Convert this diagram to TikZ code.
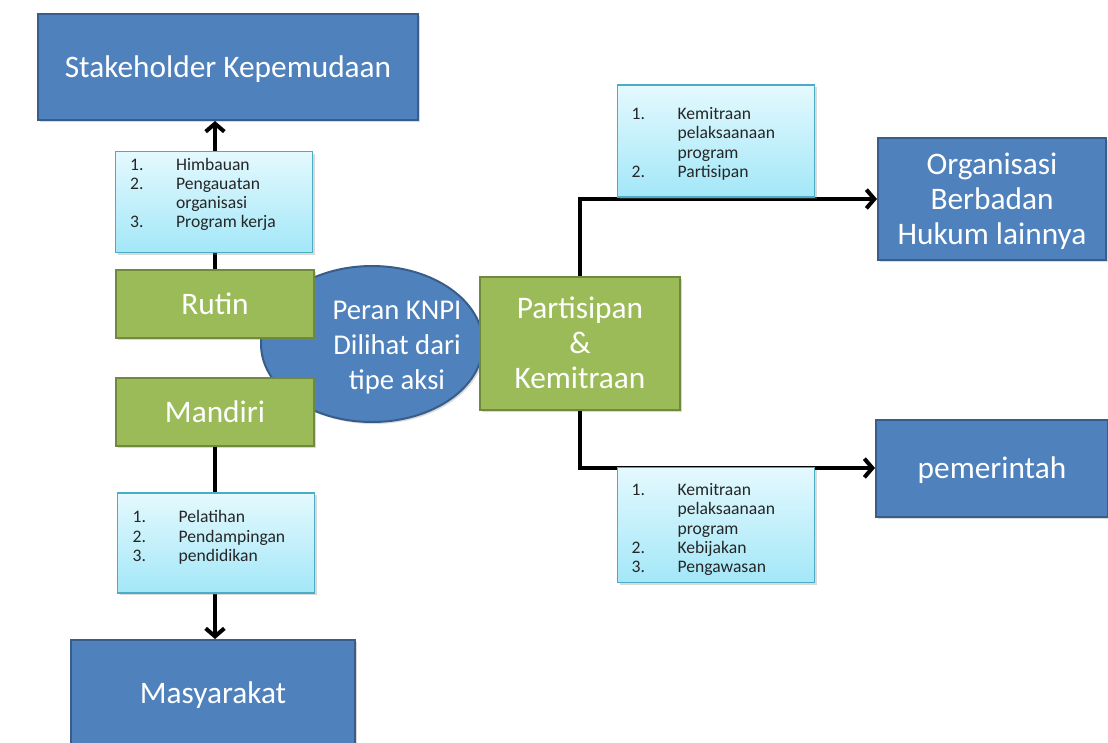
\documentclass[tikz,border=0pt]{standalone}
\usepackage{fontspec}
\setmainfont{Carlito}
\usetikzlibrary{calc,shapes.geometric,arrows.meta,shadows}
\definecolor{boxblue}{HTML}{4F81BD}
\definecolor{boxblueline}{HTML}{385D8A}
\definecolor{boxgreen}{HTML}{9BBB59}
\definecolor{boxgreenline}{HTML}{71893F}
\definecolor{infoline}{HTML}{4BACC6}
\definecolor{infotop}{HTML}{E4F9FE}
\definecolor{infobottom}{HTML}{A3E7F8}
\newcommand{\bigtext}{\fontsize{23.5}{26.2}\selectfont}
\newcommand{\midtext}{\fontsize{21.5}{26.2}\selectfont}
\newcommand{\listtext}{\fontsize{13.2}{14.4}\selectfont}
\newcommand{\itm}[1]{\makebox[34.5pt][l]{#1}}

\begin{document}
\begin{tikzpicture}[x=0.75pt,y=-0.75pt,
    shade/.style={drop shadow={shadow xshift=1.5pt,shadow yshift=-1.5pt,opacity=0.3}},
    bluebox/.style={shade,draw=boxblueline,line width=1.5pt,fill=boxblue,text=white,font=\bigtext,align=center,inner sep=0pt,text depth=0pt},
    greenbox/.style={shade,draw=boxgreenline,line width=1.5pt,fill=boxgreen,text=white,font=\bigtext,align=center,inner sep=0pt,text depth=0pt},
    infobox/.style={shade,draw=infoline,line width=1pt,top color=infotop,bottom color=infobottom,inner sep=0pt,minimum width=147.75pt},
    listnode/.style={anchor=north west,inner sep=0pt,align=left,font=\listtext,text=black!85},
    conn/.style={line width=3pt,-{Straight Barb[length=6pt,width=14pt]}}]
  \clip (0,0) rectangle (1108,743);
  \node[bluebox,ellipse,minimum width=166.5pt,minimum height=117pt] (knpi) at (372,344) {};
  \node[greenbox,minimum width=148.5pt,minimum height=51pt] (rutin) at (215,304) {Rutin};
  \node[greenbox,minimum width=148.5pt,minimum height=51pt] (mandiri) at (215,412) {Mandiri};
  \node[greenbox,minimum width=150pt,minimum height=99.75pt] (part) at (580,343) {Partisipan\\\&\\Kemitraan};
  \node[text=white,font=\midtext,align=center,inner sep=0pt,text depth=0pt] (knpitext) at (397,345) {Peran KNPI\\Dilihat dari\\tipe aksi};
  \node[bluebox,minimum width=285pt,minimum height=79.5pt] (stake) at (228,67) {Stakeholder Kepemudaan};
  \node[bluebox,minimum width=213pt,minimum height=79.5pt] (masy) at (213,693) {Masyarakat};
  \node[bluebox,minimum width=171pt,minimum height=91.5pt] (org) at (992,199) {Organisasi\\Berbadan\\Hukum lainnya};
  \node[bluebox,minimum width=174pt,minimum height=72.75pt] (pem) at (992,468) {pemerintah};
  \draw[conn] (rutin.north) -- (rutin.north |- stake.south);
  \draw[conn] (mandiri.south) -- (mandiri.south |- masy.north);
  \draw[conn] (part.north) |- (org.west);
  \draw[conn] (part.south) |- (pem.west);
  \node[infobox,minimum height=75.75pt] (info1) at (214,202) {};
  \node[infobox,minimum height=84pt] (info2) at (716,141) {};
  \node[infobox,minimum height=75pt] (info3) at (216,543) {};
  \node[infobox,minimum height=86.25pt] (info4) at (716,525) {};
  \node[listnode] (list1) at ($(info1.north west)+(15,7)$) {\itm{1.}Himbauan\\\itm{2.}Pengauatan\\\itm{}organisasi\\\itm{3.}Program kerja};
  \node[listnode] (list2) at ($(info2.north west)+(14.5,23)$) {\itm{1.}Kemitraan\\\itm{}pelaksaanaan\\\itm{}program\\\itm{2.}Partisipan};
  \node[listnode] (list3) at ($(info3.north west)+(15.5,18)$) {\itm{1.}Pelatihan\\\itm{2.}Pendampingan\\\itm{3.}pendidikan};
  \node[listnode] (list4) at ($(info4.north west)+(14.5,16.5)$) {\itm{1.}Kemitraan\\\itm{}pelaksaanaan\\\itm{}program\\\itm{2.}Kebijakan\\\itm{3.}Pengawasan};
\end{tikzpicture}
\end{document}
